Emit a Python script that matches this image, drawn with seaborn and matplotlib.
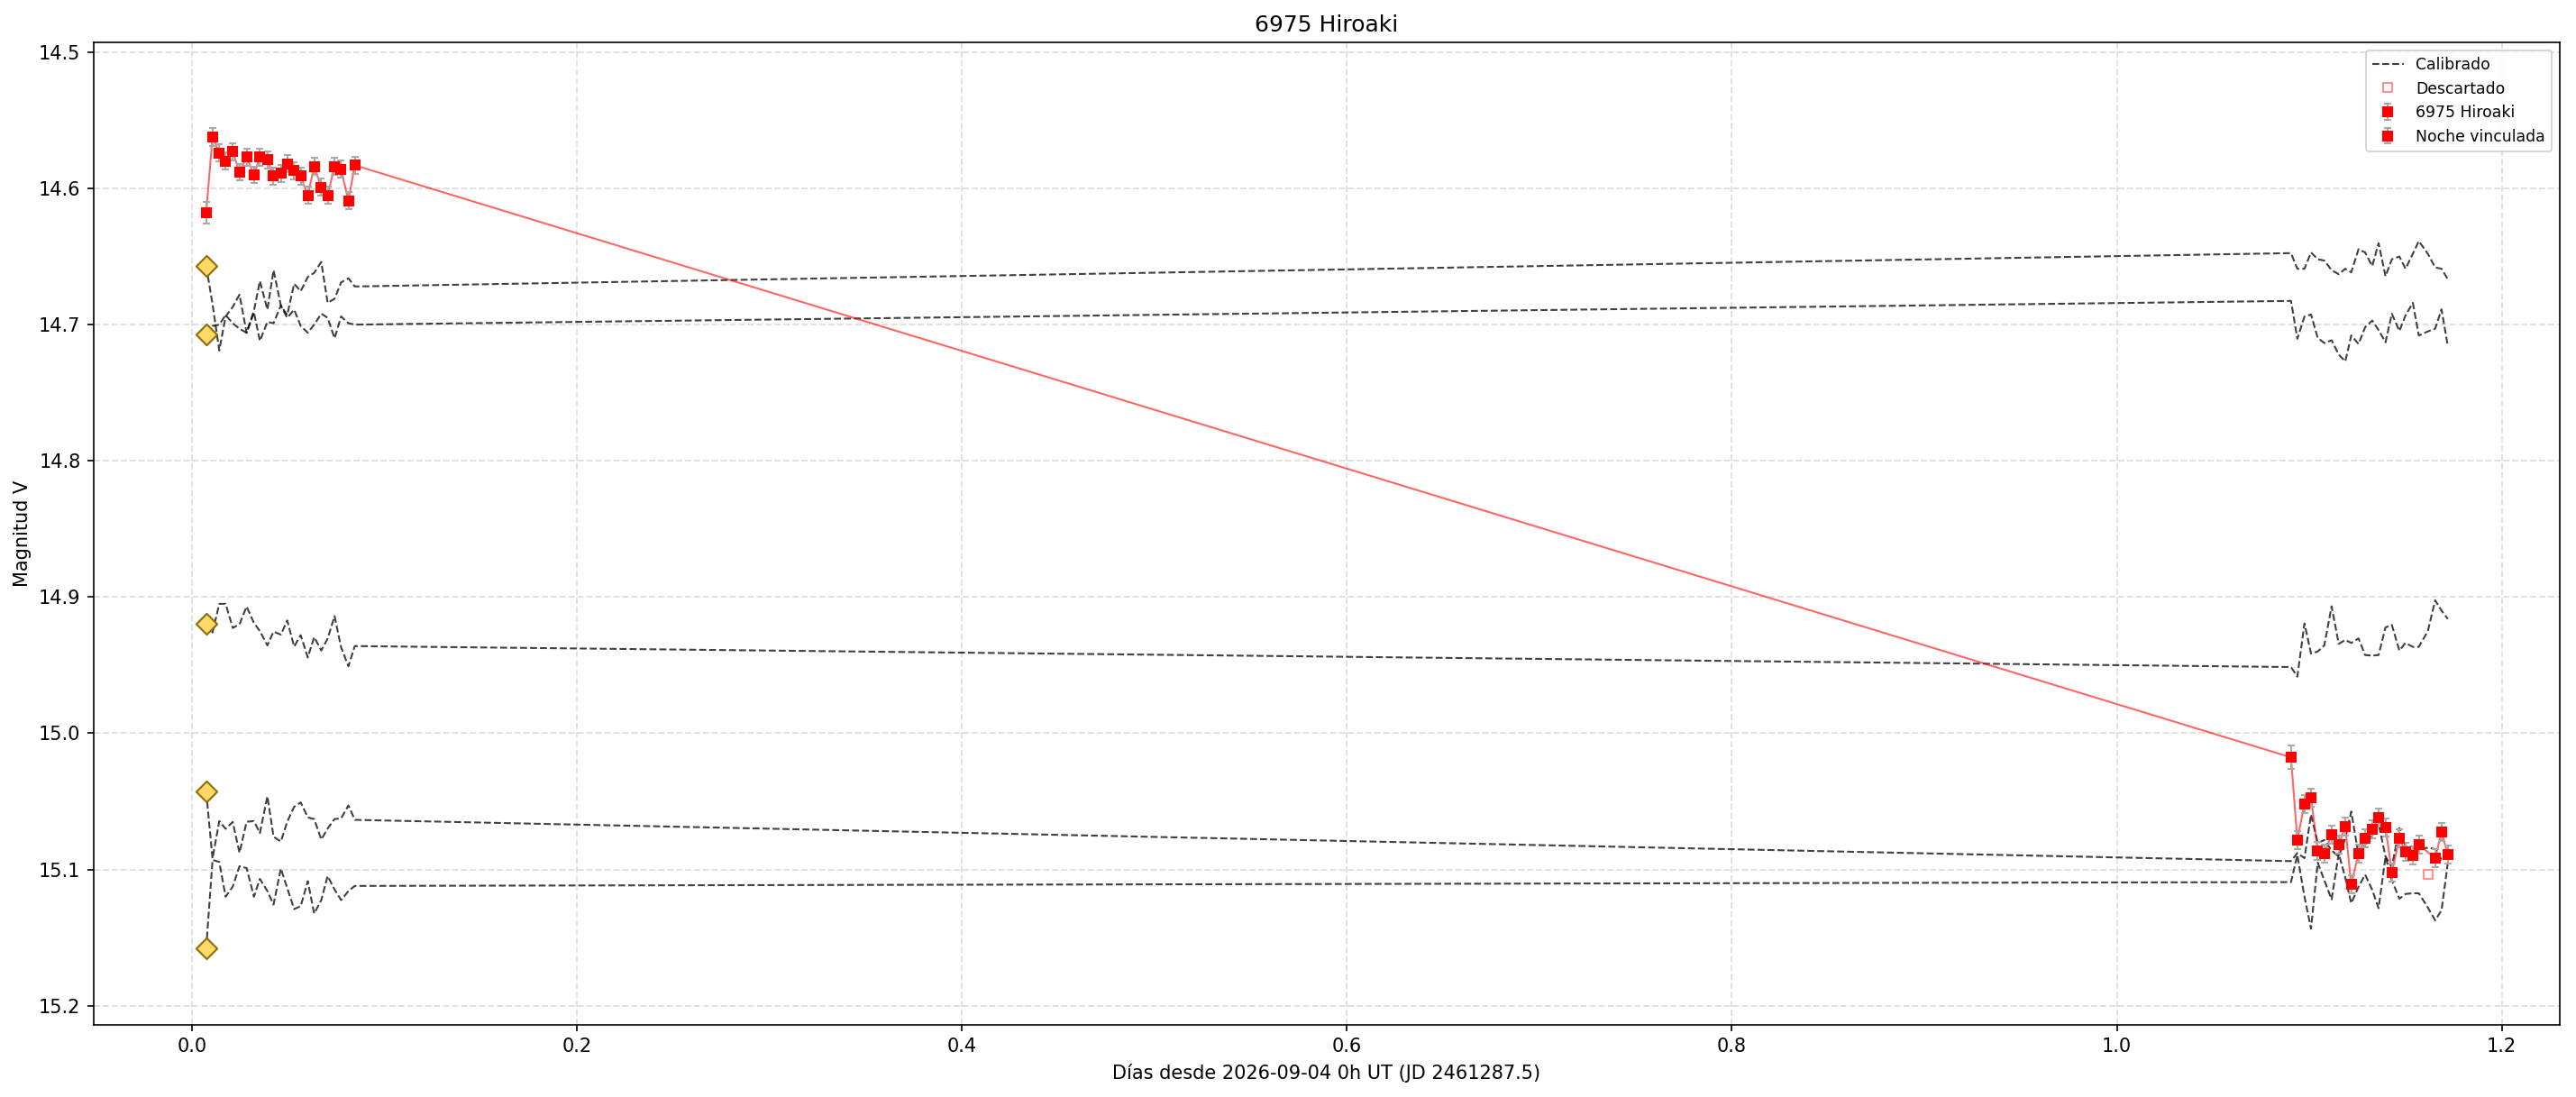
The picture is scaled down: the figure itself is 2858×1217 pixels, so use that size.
import numpy as np
import pandas as pd
import matplotlib
matplotlib.use("Agg")
import matplotlib.pyplot as plt
import seaborn as sns
from matplotlib.lines import Line2D

# ---------------- data ----------------
t_night1 = [0.0074, 0.0107, 0.0142, 0.0175, 0.0212, 0.0247, 0.0284, 0.0322, 0.0353, 0.0392,
            0.0424, 0.0462, 0.0495, 0.0531, 0.0565, 0.0602, 0.0635, 0.0672, 0.0705, 0.0741,
            0.0775, 0.0813, 0.0846]
mag_night1 = [14.618, 14.562, 14.574, 14.580, 14.573, 14.588, 14.577, 14.590, 14.577, 14.579,
              14.591, 14.589, 14.582, 14.587, 14.591, 14.605, 14.584, 14.599, 14.605, 14.584,
              14.586, 14.609, 14.583]
err_night1 = [0.0080, 0.0066, 0.0064, 0.0064, 0.0064, 0.0062, 0.0062, 0.0062, 0.0062, 0.0062,
              0.0062, 0.0062, 0.0062, 0.0062, 0.0062, 0.0062, 0.0062, 0.0062, 0.0062, 0.0062,
              0.0062, 0.0062, 0.0062]

t_night2 = [1.0905, 1.0938, 1.0975, 1.1009, 1.1044, 1.1078, 1.1116, 1.1153, 1.1187, 1.1218,
            1.1256, 1.1290, 1.1327, 1.1360, 1.1396, 1.1429, 1.1468, 1.1500, 1.1538, 1.1569,
            1.1616, 1.1654, 1.1687, 1.1720]
mag_night2 = [15.0177, 15.0784, 15.0519, 15.0473, 15.0863, 15.0883, 15.0744, 15.0817, 15.0685, 15.1110,
              15.0883, 15.0771, 15.0705, 15.0619, 15.0691, 15.1022, 15.0773, 15.0870, 15.0899, 15.0817,
              15.1038, 15.0918, 15.0725, 15.0890]
err_night2 = [0.0086, 0.0066, 0.0066, 0.0068, 0.0066, 0.0066, 0.0066, 0.0066, 0.0066, 0.0066,
              0.0066, 0.0066, 0.0066, 0.0066, 0.0066, 0.0066, 0.0066, 0.0066, 0.0066, 0.0066,
              0.0066, 0.0066, 0.0066, 0.0066]
discarded_night2 = [False] * 20 + [True] + [False] * 3

# calibrated comparison stars (first value = reference point, drawn as diamond)
comp1_n1 = [14.657, 14.685, 14.719, 14.694, 14.687, 14.678, 14.706, 14.690, 14.668, 14.689,
            14.660, 14.686, 14.693, 14.670, 14.6755, 14.665, 14.662, 14.654, 14.684, 14.681,
            14.669, 14.666, 14.672]
comp2_n1 = [14.707, 14.701, 14.700, 14.693, 14.699, 14.703, 14.706, 14.691, 14.712, 14.698,
            14.699, 14.686, 14.695, 14.689, 14.701, 14.706, 14.700, 14.692, 14.695, 14.710,
            14.694, 14.699, 14.700]
comp3_n1 = [14.9194, 14.926, 14.905, 14.905, 14.9227, 14.920, 14.907, 14.919, 14.925, 14.9355,
            14.9254, 14.9276, 14.9172, 14.9364, 14.928, 14.9444, 14.9294, 14.9393, 14.9305, 14.914,
            14.937, 14.9508, 14.936]
comp4_n1 = [15.043, 15.092, 15.0645, 15.0702, 15.0651, 15.0878, 15.065, 15.0645, 15.0733, 15.0463,
            15.076, 15.0795, 15.065, 15.054, 15.0508, 15.0618, 15.063, 15.078, 15.070, 15.063,
            15.0625, 15.053, 15.0636]
comp5_n1 = [15.158, 15.093, 15.0945, 15.120, 15.1126, 15.0976, 15.099, 15.120, 15.107, 15.1159,
            15.1258, 15.0993, 15.1137, 15.1291, 15.127, 15.1086, 15.1324, 15.1225, 15.1048, 15.1148,
            15.1225, 15.1159, 15.1121]

comp1_n2 = [14.6475, 14.659, 14.659, 14.647, 14.652, 14.653, 14.660, 14.663, 14.659, 14.6616,
            14.6446, 14.647, 14.657, 14.6402, 14.6645, 14.652, 14.650, 14.659, 14.648, 14.6387,
            14.648, 14.658, 14.659, 14.6667]
comp2_n2 = [14.6826, 14.7104, 14.694, 14.6926, 14.7098, 14.7135, 14.7115, 14.722, 14.727, 14.708,
            14.7142, 14.702, 14.697, 14.704, 14.713, 14.692, 14.7047, 14.6932, 14.684, 14.708,
            14.705, 14.703, 14.6888, 14.716]
comp3_n2 = [14.9514, 14.9585, 14.9194, 14.9415, 14.940, 14.9355, 14.9068, 14.9344, 14.9315, 14.9337,
            14.9304, 14.9426, 14.943, 14.9426, 14.9223, 14.9205, 14.9393, 14.9337, 14.9366, 14.9366,
            14.925, 14.9024, 14.910, 14.9161]
comp4_n2 = [15.0939, 15.088, 15.0917, 15.0597, 15.0806, 15.0784, 15.086, 15.0906, 15.0773, 15.0575,
            15.0895, 15.0818, 15.0751, 15.0663, 15.0906, 15.0983, 15.0696, 15.0829, 15.0862, 15.0851,
            15.084, 15.0851, 15.0928, 15.0873]
comp5_n2 = [15.1093, 15.0895, 15.120, 15.1435, 15.095, 15.108, 15.122, 15.0884, 15.106, 15.1248,
            15.1127, 15.1038, 15.115, 15.1285, 15.0906, 15.108, 15.1215, 15.118, 15.1175, 15.1175,
            15.128, 15.1374, 15.130, 15.095]

title = "6975 Hiroaki"
xlabel = "Días desde 2026-09-04 0h UT (JD 2461287.5)"
ylabel = "Magnitud V"
legend_labels = ["Calibrado", "Descartado", "6975 Hiroaki", "Noche vinculada"]

# ---------------- build tables ----------------
comps_n1 = [comp1_n1, comp2_n1, comp3_n1, comp4_n1, comp5_n1]
comps_n2 = [comp1_n2, comp2_n2, comp3_n2, comp4_n2, comp5_n2]
rows = []
for i, (c1, c2) in enumerate(zip(comps_n1, comps_n2)):
    for t, m in zip(t_night1, c1):
        rows.append(("c%d" % i, t, m))
    for t, m in zip(t_night2, c2):
        rows.append(("c%d" % i, t, m))
comp_df = pd.DataFrame(rows, columns=["star", "t", "mag"])
ref_df = pd.DataFrame({"t": [t_night1[0]] * 5, "mag": [c[0] for c in comps_n1]})

n1 = pd.DataFrame({"t": t_night1, "mag": mag_night1, "err": err_night1})
n2 = pd.DataFrame({"t": t_night2, "mag": mag_night2, "err": err_night2, "disc": discarded_night2})
n2_ok = n2[~n2["disc"]]
n2_bad = n2[n2["disc"]]
target_line = pd.concat([n1, n2_ok[["t", "mag", "err"]]], ignore_index=True)

# ---------------- plot ----------------
DPI = 150
fig = plt.figure(figsize=(2858 / DPI, 1217 / DPI), dpi=DPI)
ax = fig.add_axes([0.0364, 0.0659, 0.9572, 0.8952])

ax.grid(True, linestyle="--", color="#b0b0b0", alpha=0.4, linewidth=0.9, zorder=0)
ax.set_axisbelow(True)

sns.lineplot(data=comp_df, x="t", y="mag", units="star", estimator=None, sort=False,
             color="black", alpha=0.75, linewidth=1.0, linestyle="--", legend=False, ax=ax, zorder=2)
sns.scatterplot(data=ref_df, x="t", y="mag", marker="D", s=62, color="#ffd966",
                edgecolor="#8b6e0a", linewidth=1.0, legend=False, ax=ax, zorder=4)

sns.lineplot(data=target_line, x="t", y="mag", sort=False, estimator=None, color="red",
             alpha=0.6, linewidth=1.0, legend=False, ax=ax, zorder=3)

sns.scatterplot(data=n2_bad, x="t", y="mag", marker="s", s=22, facecolor="none",
                edgecolor="#ff9090", linewidth=1.0, legend=False, ax=ax, zorder=3)

eb1 = ax.errorbar(n1["t"], n1["mag"], yerr=n1["err"], fmt="s", color="red", ms=4.7,
                  ecolor="darkgray", elinewidth=1, capsize=2, zorder=5)
eb2 = ax.errorbar(n2_ok["t"], n2_ok["mag"], yerr=n2_ok["err"], fmt="s", color="red", ms=4.7,
                  ecolor="darkgray", elinewidth=1, capsize=2, zorder=5)

ax.set_xlim(-0.051, 1.230)
ax.set_ylim(15.214, 14.493)
ax.set_title(title, fontsize=12)
ax.set_xlabel(xlabel, fontsize=10)
ax.set_ylabel(ylabel, fontsize=10)

h_cal = Line2D([], [], color="black", alpha=0.75, linestyle="--", linewidth=1.0)
h_disc = Line2D([], [], marker="s", linestyle="none", markerfacecolor="none",
                markeredgecolor="#ff9090", markersize=4.7)
ax.legend([h_cal, h_disc, eb1, eb2], legend_labels, loc="upper right", fontsize=8.3)

fig.savefig("out.png", dpi=DPI)
